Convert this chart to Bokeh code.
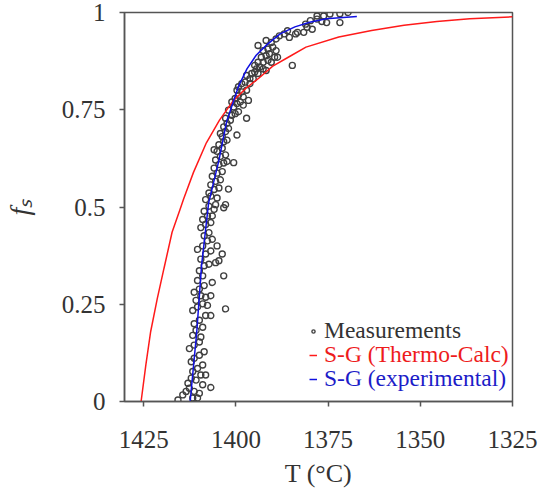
from bokeh.plotting import figure
from bokeh.models import Range1d, FixedTicker, Legend, LegendItem
from bokeh.embed import file_html
from bokeh.resources import INLINE

# Measurements (temperature in °C, solid fraction)
meas_T = [1415.7, 1414.4, 1413.5, 1412.6, 1413.0, 1411.7, 1410.4, 1411.3, 1409.9, 1409.0,
          1406.8, 1412.1, 1410.8, 1409.5, 1408.2, 1411.7, 1410.4, 1409.0, 1412.1, 1411.3,
          1409.9, 1408.6, 1412.6, 1411.3, 1409.9, 1409.5, 1411.7, 1410.8, 1409.0, 1411.3,
          1409.9, 1408.2, 1406.8, 1411.7, 1410.4, 1409.0, 1407.7, 1402.8, 1410.8, 1409.5,
          1408.2, 1406.8, 1411.3, 1409.9, 1408.6, 1410.4, 1409.0, 1406.4, 1403.3, 1409.9,
          1408.6, 1407.3, 1405.5, 1404.6, 1403.7, 1409.5, 1408.2, 1406.8, 1410.4, 1409.0,
          1407.7, 1406.4, 1405.1, 1408.6, 1407.3, 1409.5, 1408.2, 1406.8, 1409.0, 1407.7,
          1406.4, 1405.9, 1408.6, 1407.3, 1405.5, 1408.2, 1406.8, 1405.1, 1402.8, 1403.3,
          1407.3, 1405.9, 1406.8, 1405.5, 1404.2, 1404.6, 1402.0, 1406.4, 1405.1, 1403.7,
          1405.9, 1404.6, 1403.3, 1402.4, 1400.6, 1405.5, 1404.2, 1402.8, 1405.1, 1403.7,
          1405.9, 1404.6, 1403.3, 1402.4, 1403.7, 1404.2, 1402.8, 1402.0, 1399.7, 1403.3,
          1402.4, 1401.5, 1402.8, 1401.1, 1400.2, 1399.3, 1397.1, 1402.0, 1400.6, 1399.7,
          1398.8, 1398.0, 1401.1, 1400.2, 1399.3, 1398.0, 1396.6, 1399.7, 1398.4, 1397.1,
          1399.3, 1398.4, 1397.5, 1396.2, 1395.3, 1397.1, 1395.7, 1394.9, 1394.0, 1396.2,
          1394.4, 1393.5, 1392.6, 1391.8, 1394.9, 1394.0, 1392.6, 1391.3, 1390.4, 1393.1,
          1391.8, 1390.9, 1389.5, 1388.7, 1392.6, 1391.3, 1390.0, 1389.1, 1394.0, 1391.8,
          1390.4, 1389.1, 1388.2, 1386.9, 1386.0, 1384.7, 1385.5, 1383.8, 1383.3, 1381.6,
          1380.7, 1379.3, 1381.1, 1379.8, 1378.0, 1376.7, 1378.0, 1376.2, 1374.5, 1371.8,
          1369.6, 1375.4, 1371.8]
meas_fs = [0.004, 0.017, 0.026, 0.034, 0.047, 0.009, 0.009, 0.026, 0.021, 0.043,
           0.036, 0.060, 0.055, 0.068, 0.068, 0.077, 0.085, 0.094, 0.102, 0.111,
           0.119, 0.128, 0.136, 0.145, 0.153, 0.166, 0.170, 0.183, 0.191, 0.200,
           0.209, 0.221, 0.221, 0.234, 0.243, 0.251, 0.247, 0.238, 0.260, 0.272,
           0.268, 0.272, 0.281, 0.289, 0.298, 0.311, 0.323, 0.306, 0.323, 0.336,
           0.349, 0.353, 0.357, 0.362, 0.379, 0.366, 0.379, 0.387, 0.391, 0.400,
           0.413, 0.417, 0.400, 0.426, 0.434, 0.447, 0.455, 0.460, 0.468, 0.477,
           0.477, 0.494, 0.489, 0.502, 0.506, 0.519, 0.528, 0.523, 0.506, 0.498,
           0.536, 0.545, 0.557, 0.566, 0.570, 0.549, 0.546, 0.579, 0.587, 0.591,
           0.600, 0.609, 0.613, 0.617, 0.614, 0.621, 0.630, 0.634, 0.643, 0.651,
           0.647, 0.660, 0.668, 0.672, 0.681, 0.689, 0.694, 0.702, 0.685, 0.706,
           0.715, 0.723, 0.728, 0.736, 0.740, 0.745, 0.728, 0.749, 0.757, 0.766,
           0.770, 0.762, 0.770, 0.779, 0.787, 0.783, 0.774, 0.800, 0.796, 0.800,
           0.809, 0.817, 0.821, 0.817, 0.830, 0.838, 0.843, 0.847, 0.843, 0.830,
           0.855, 0.860, 0.855, 0.851, 0.864, 0.872, 0.872, 0.877, 0.872, 0.885,
           0.889, 0.894, 0.885, 0.885, 0.902, 0.906, 0.911, 0.902, 0.915, 0.928,
           0.923, 0.932, 0.940, 0.945, 0.953, 0.864, 0.936, 0.945, 0.949, 0.949,
           0.962, 0.957, 0.970, 0.979, 0.983, 0.977, 0.991, 0.991, 0.996, 0.997,
           1.000, 0.974, 0.974]

# Scheil-Gulliver (Thermo-Calc)
tc_T = [1425.7, 1424.4, 1423.1, 1421.3, 1419.5, 1417.3, 1415.1, 1414.2, 1411.5, 1408.0,
        1404.4, 1400.9, 1397.3, 1393.8, 1390.0, 1385.8, 1381.0, 1372.1, 1363.2, 1354.4,
        1345.5, 1336.6, 1325.0]
tc_fs = [0.0, 0.095, 0.180, 0.265, 0.342, 0.435, 0.495, 0.520, 0.589, 0.665,
         0.724, 0.771, 0.805, 0.831, 0.862, 0.885, 0.911, 0.937, 0.954, 0.967,
         0.977, 0.984, 0.989]

# Scheil-Gulliver (experimental)
exp_T = [1412.4, 1410.6, 1409.3, 1407.4, 1404.6, 1402.5, 1399.3, 1397.0, 1394.5,
         1391.5, 1388.0, 1384.0, 1380.0, 1375.5, 1367.2]
exp_fs = [0.0, 0.180, 0.350, 0.510, 0.620, 0.720, 0.810, 0.855, 0.890,
          0.918, 0.945, 0.963, 0.975, 0.984, 0.990]

x_ticks = [1425, 1400, 1375, 1350, 1325]
y_ticks = [0, 0.25, 0.5, 0.75, 1]
y_tick_labels = ["0", "0.25", "0.5", "0.75", "1"]

AX = "#555555"
SERIF = "Liberation Serif"

p = figure(width=538, height=490, output_backend="svg", toolbar_location=None,
           x_range=Range1d(1430.2, 1325), y_range=Range1d(0, 1),
           min_border_left=118, min_border_right=26, min_border_top=12,
           min_border_bottom=86)
p.background_fill_color = "white"
p.border_fill_color = "white"
p.outline_line_color = AX
p.outline_line_width = 1.5
p.grid.visible = False

r_meas = p.scatter(meas_T, meas_fs, marker="circle", size=6, fill_color=None,
                   line_color="#404040", line_width=1.4)
r_tc = p.line(tc_T, tc_fs, line_color="#ff1a1a", line_width=1.5)
r_exp = p.line(exp_T, exp_fs, line_color="#1010e0", line_width=1.5)

for ax in (p.xaxis[0], p.yaxis[0]):
    ax.axis_line_color = AX
    ax.axis_line_width = 1.5
    ax.major_tick_line_color = AX
    ax.major_tick_line_width = 1.5
    ax.major_tick_in = 0
    ax.major_tick_out = 5
    ax.minor_tick_line_color = None
    ax.major_label_text_color = "#333333"
    ax.major_label_text_font = SERIF
    ax.major_label_text_font_size = "25px"
    ax.axis_label_text_font = SERIF
    ax.axis_label_text_color = "#333333"

p.xaxis.ticker = FixedTicker(ticks=x_ticks)
p.xaxis.axis_label = "T (°C)"
p.xaxis.axis_label_text_font_style = "normal"
p.xaxis.axis_label_text_font_size = "26px"
p.xaxis.major_label_standoff = 24
p.xaxis.axis_label_standoff = 8

p.yaxis.ticker = FixedTicker(ticks=y_ticks)
p.yaxis.major_label_overrides = {t: s for t, s in zip(y_ticks, y_tick_labels)}
p.yaxis.axis_label = "fₛ"
p.yaxis.axis_label_text_font_style = "italic"
p.yaxis.axis_label_text_font_size = "28px"
p.yaxis.major_label_standoff = 14
p.yaxis.axis_label_standoff = 24

entries = [("Measurements", r_meas, "#333333", 57),
           ("S-G (Thermo-Calc)", r_tc, "#ee1c1c", 33),
           ("S-G (experimental)", r_exp, "#1c1cc8", 9)]
for label, rend, col, yoff in entries:
    lg = Legend(items=[LegendItem(label=label, renderers=[rend])],
                location=(185, yoff), padding=0, margin=0, spacing=0,
                glyph_width=8, glyph_height=20, label_height=20,
                label_standoff=7, border_line_color=None,
                background_fill_alpha=0, label_text_font=SERIF,
                label_text_font_size="23.5px", label_text_color=col)
    p.add_layout(lg, "center")

open("out.html", "w").write(file_html(p, INLINE))
